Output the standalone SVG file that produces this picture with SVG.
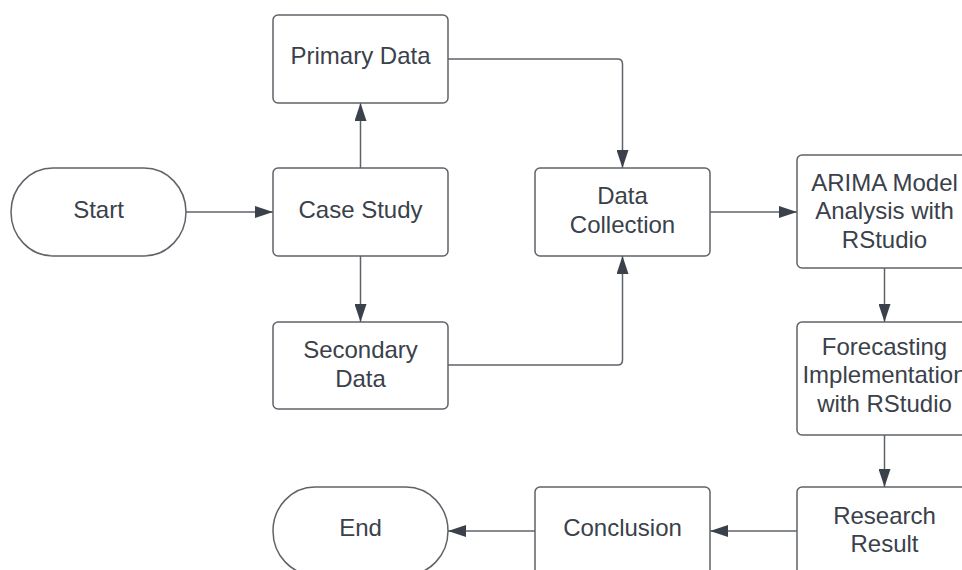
<svg xmlns="http://www.w3.org/2000/svg" width="962" height="570" viewBox="0 0 962 570">
<defs>
<style>
.box{fill:#ffffff;stroke:#5f6369;stroke-width:1.5}
.t{font-family:"Liberation Sans",Arial,sans-serif;font-size:24px;fill:#3a414a;text-anchor:middle}
.c{fill:none;stroke:#5f6369;stroke-width:1.5}
</style>
<marker id="ah" viewBox="0 0 18 12" refX="18" refY="6" markerWidth="18" markerHeight="12" markerUnits="userSpaceOnUse" orient="auto">
<path d="M0,0 L18,6 L0,12 Z" fill="#3a414a"/>
</marker>
</defs>
<rect width="962" height="570" fill="#ffffff"/>
<g id="connectors">
<path class="c" d="M186,212 H273" marker-end="url(#ah)"/>
<path class="c" d="M360.5,168 V103" marker-end="url(#ah)"/>
<path class="c" d="M360.5,256 V322" marker-end="url(#ah)"/>
<path class="c" d="M448,59 H617.5 Q622.5,59 622.5,64 V168" marker-end="url(#ah)"/>
<path class="c" d="M448,365 H617.5 Q622.5,365 622.5,360 V256" marker-end="url(#ah)"/>
<path class="c" d="M710,212 H797" marker-end="url(#ah)"/>
<path class="c" d="M884.5,268 V322" marker-end="url(#ah)"/>
<path class="c" d="M884.5,435 V487" marker-end="url(#ah)"/>
<path class="c" d="M797,531 H710" marker-end="url(#ah)"/>
<path class="c" d="M535,531 H448" marker-end="url(#ah)"/>
</g>
<g id="start">
<rect class="box" x="11" y="168" width="175" height="88" rx="42" ry="44"/>
<text class="t" x="98.5" y="218">Start</text>
</g>
<g id="primary-data">
<rect class="box" x="273" y="15" width="175" height="88" rx="5"/>
<text class="t" x="360.5" y="63.5">Primary Data</text>
</g>
<g id="case-study">
<rect class="box" x="273" y="168" width="175" height="88" rx="5"/>
<text class="t" x="360.5" y="218">Case Study</text>
</g>
<g id="secondary-data">
<rect class="box" x="273" y="322" width="175" height="87" rx="5"/>
<text class="t" x="360.5" y="358">Secondary</text>
<text class="t" x="360.5" y="386.5">Data</text>
</g>
<g id="data-collection">
<rect class="box" x="535" y="168" width="175" height="88" rx="5"/>
<text class="t" x="622.5" y="204">Data</text>
<text class="t" x="622.5" y="233">Collection</text>
</g>
<g id="arima">
<rect class="box" x="797" y="155" width="175" height="113" rx="5"/>
<text class="t" x="884.5" y="190.5">ARIMA Model</text>
<text class="t" x="884.5" y="219">Analysis with</text>
<text class="t" x="884.5" y="247.5">RStudio</text>
</g>
<g id="forecasting">
<rect class="box" x="797" y="322" width="175" height="113" rx="5"/>
<text class="t" x="884.5" y="354.5">Forecasting</text>
<text class="t" x="884.5" y="383">Implementation</text>
<text class="t" x="884.5" y="411.5">with RStudio</text>
</g>
<g id="research-result">
<rect class="box" x="797" y="487" width="175" height="88" rx="5"/>
<text class="t" x="884.5" y="523.5">Research</text>
<text class="t" x="884.5" y="552">Result</text>
</g>
<g id="conclusion">
<rect class="box" x="535" y="487" width="175" height="88" rx="5"/>
<text class="t" x="622.5" y="536">Conclusion</text>
</g>
<g id="end">
<rect class="box" x="273" y="487" width="175" height="88" rx="42" ry="44"/>
<text class="t" x="360.5" y="536">End</text>
</g>
</svg>
